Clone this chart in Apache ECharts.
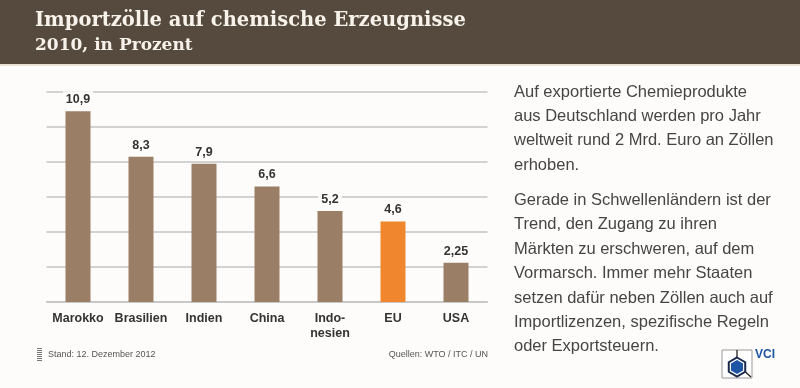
<!DOCTYPE html>
<html><head><meta charset="utf-8">
<script src="https://cdn.jsdelivr.net/npm/echarts@6/dist/echarts.min.js"></script>
<style>html,body{margin:0;padding:0;background:#fdfcfa}#c{width:800px;height:388px}</style>
</head><body><div id="c"></div>
<script>
var categories = ['Marokko', 'Brasilien', 'Indien', 'China', 'Indo-\nnesien', 'EU', 'USA'];
var values = [10.9, 8.3, 7.9, 6.6, 5.2, 4.6, 2.25];
var highlight = 'EU';
var yTicks = [0, 2, 4, 6, 8, 10, 12];
var titleText = 'Importzölle auf chemische Erzeugnisse';
var subtitleText = '2010, in Prozent';
var para1 = ['Auf exportierte Chemieprodukte', 'aus Deutschland werden pro Jahr', 'weltweit rund 2 Mrd. Euro an Zöllen', 'erhoben.'];
var para2 = ['Gerade in Schwellenländern ist der', 'Trend, den Zugang zu ihren', 'Märkten zu erschweren, auf dem', 'Vormarsch. Immer mehr Staaten', 'setzen dafür neben Zöllen auch auf', 'Importlizenzen, spezifische Regeln', 'oder Exportsteuern.'];
var standText = 'Stand: 12. Dezember 2012';
var quelleText = 'Quellen: WTO / ITC / UN';

var chart = echarts.init(document.getElementById('c'));
var textEls = [];
var lh = 24.4;
var bodyFont = '16.5px "Liberation Sans", Arial, sans-serif';
para1.forEach(function (t, i) {
  textEls.push({type: 'text', left: 514, top: 93 + i * lh - 9.5, style: {text: t, font: bodyFont, fill: '#454545'}});
});
para2.forEach(function (t, i) {
  textEls.push({type: 'text', left: 514, top: 201.5 + i * lh - 9.5, style: {text: t, font: bodyFont, fill: '#454545'}});
});
var iconLines = [];
for (var k = 0; k < 7; k++) {
  iconLines.push({type: 'rect', shape: {x: 37, y: 348 + k * 2, width: 5, height: 1}, style: {fill: '#777'}});
}
var hx = 737, hy = 367, r = 9.5;
var hexPts = [];
for (var a = 0; a < 6; a++) {
  var ang = Math.PI / 180 * (60 * a - 90);
  hexPts.push([hx + r * Math.cos(ang), hy + r * Math.sin(ang)]);
}
var innerPts = [];
for (var a2 = 0; a2 < 6; a2++) {
  var ang2 = Math.PI / 180 * (60 * a2 - 90);
  innerPts.push([hx + (r - 2.5) * Math.cos(ang2), hy + (r - 2.5) * Math.sin(ang2)]);
}

chart.setOption({
  animation: false,
  backgroundColor: '#fdfcfa',
  grid: {left: 46.5, right: 312.5, top: 92, bottom: 86, containLabel: false},
  xAxis: {
    type: 'category', data: categories,
    axisLine: {show: true, lineStyle: {color: '#c4c4c4', width: 1.5}},
    axisTick: {show: false},
    axisLabel: {color: '#333', fontWeight: 'bold', fontSize: 12.5, fontFamily: '"Liberation Sans", Arial, sans-serif', margin: 9, lineHeight: 15, interval: 0}
  },
  yAxis: {
    type: 'value', min: yTicks[0], max: yTicks[yTicks.length - 1], interval: 2,
    axisLine: {show: false}, axisTick: {show: false}, axisLabel: {show: false},
    splitLine: {lineStyle: {color: '#c4c4c4', width: 1.5}}
  },
  series: [{
    type: 'bar', barWidth: 25, z: 3,
    data: values.map(function (v, i) {
      return {value: v, itemStyle: {color: categories[i] === highlight ? '#f0872e' : '#9a7e66'}};
    }),
    label: {
      show: true, position: 'top', distance: 5,
      color: '#333', fontWeight: 'bold', fontSize: 12.5, fontFamily: '"Liberation Sans", Arial, sans-serif',
      backgroundColor: '#fdfcfa', padding: [2, 3, 0, 3],
      formatter: function (p) { return String(p.value).replace('.', ','); }
    }
  }],
  graphic: [
    {type: 'rect', shape: {x: 0, y: 0, width: 800, height: 64}, style: {fill: '#564a3e'}},
    {type: 'rect', shape: {x: 0, y: 64, width: 800, height: 2}, style: {fill: '#e9e2d6'}},
    {type: 'text', left: 35, top: 11, style: {text: titleText, font: 'bold 19.5px "DejaVu Serif", serif', fill: '#f7f3ea'}},
    {type: 'text', left: 35, top: 37, style: {text: subtitleText, font: 'bold 17px "DejaVu Serif", serif', fill: '#f7f3ea'}},
    {type: 'text', left: 48, top: 350, style: {text: standText, font: '9px "Liberation Sans", Arial, sans-serif', fill: '#555'}},
    {type: 'text', right: 312, top: 350, style: {text: quelleText, font: '9px "Liberation Sans", Arial, sans-serif', fill: '#555'}},
    {type: 'rect', shape: {x: 722, y: 350, width: 30, height: 28}, style: {fill: '#fff', stroke: '#999', lineWidth: 1}},
    {type: 'line', shape: {x1: hx, y1: 350, x2: hx, y2: hy - r}, style: {stroke: '#222', lineWidth: 1.3}},
    {type: 'line', shape: {x1: hexPts[2][0], y1: hexPts[2][1], x2: 751, y2: 377}, style: {stroke: '#222', lineWidth: 1.3}},
    {type: 'polygon', shape: {points: hexPts}, style: {fill: '#fff', stroke: '#1b2a4a', lineWidth: 2}},
    {type: 'polygon', shape: {points: innerPts}, style: {fill: '#1d55a5', stroke: 'none'}},
    {type: 'text', left: 755, top: 349, style: {text: 'VCI', font: 'bold 12px "Liberation Sans Narrow", "Liberation Sans", sans-serif', fill: '#1d55a5'}}
  ].concat(textEls).concat(iconLines)
});
</script></body></html>
